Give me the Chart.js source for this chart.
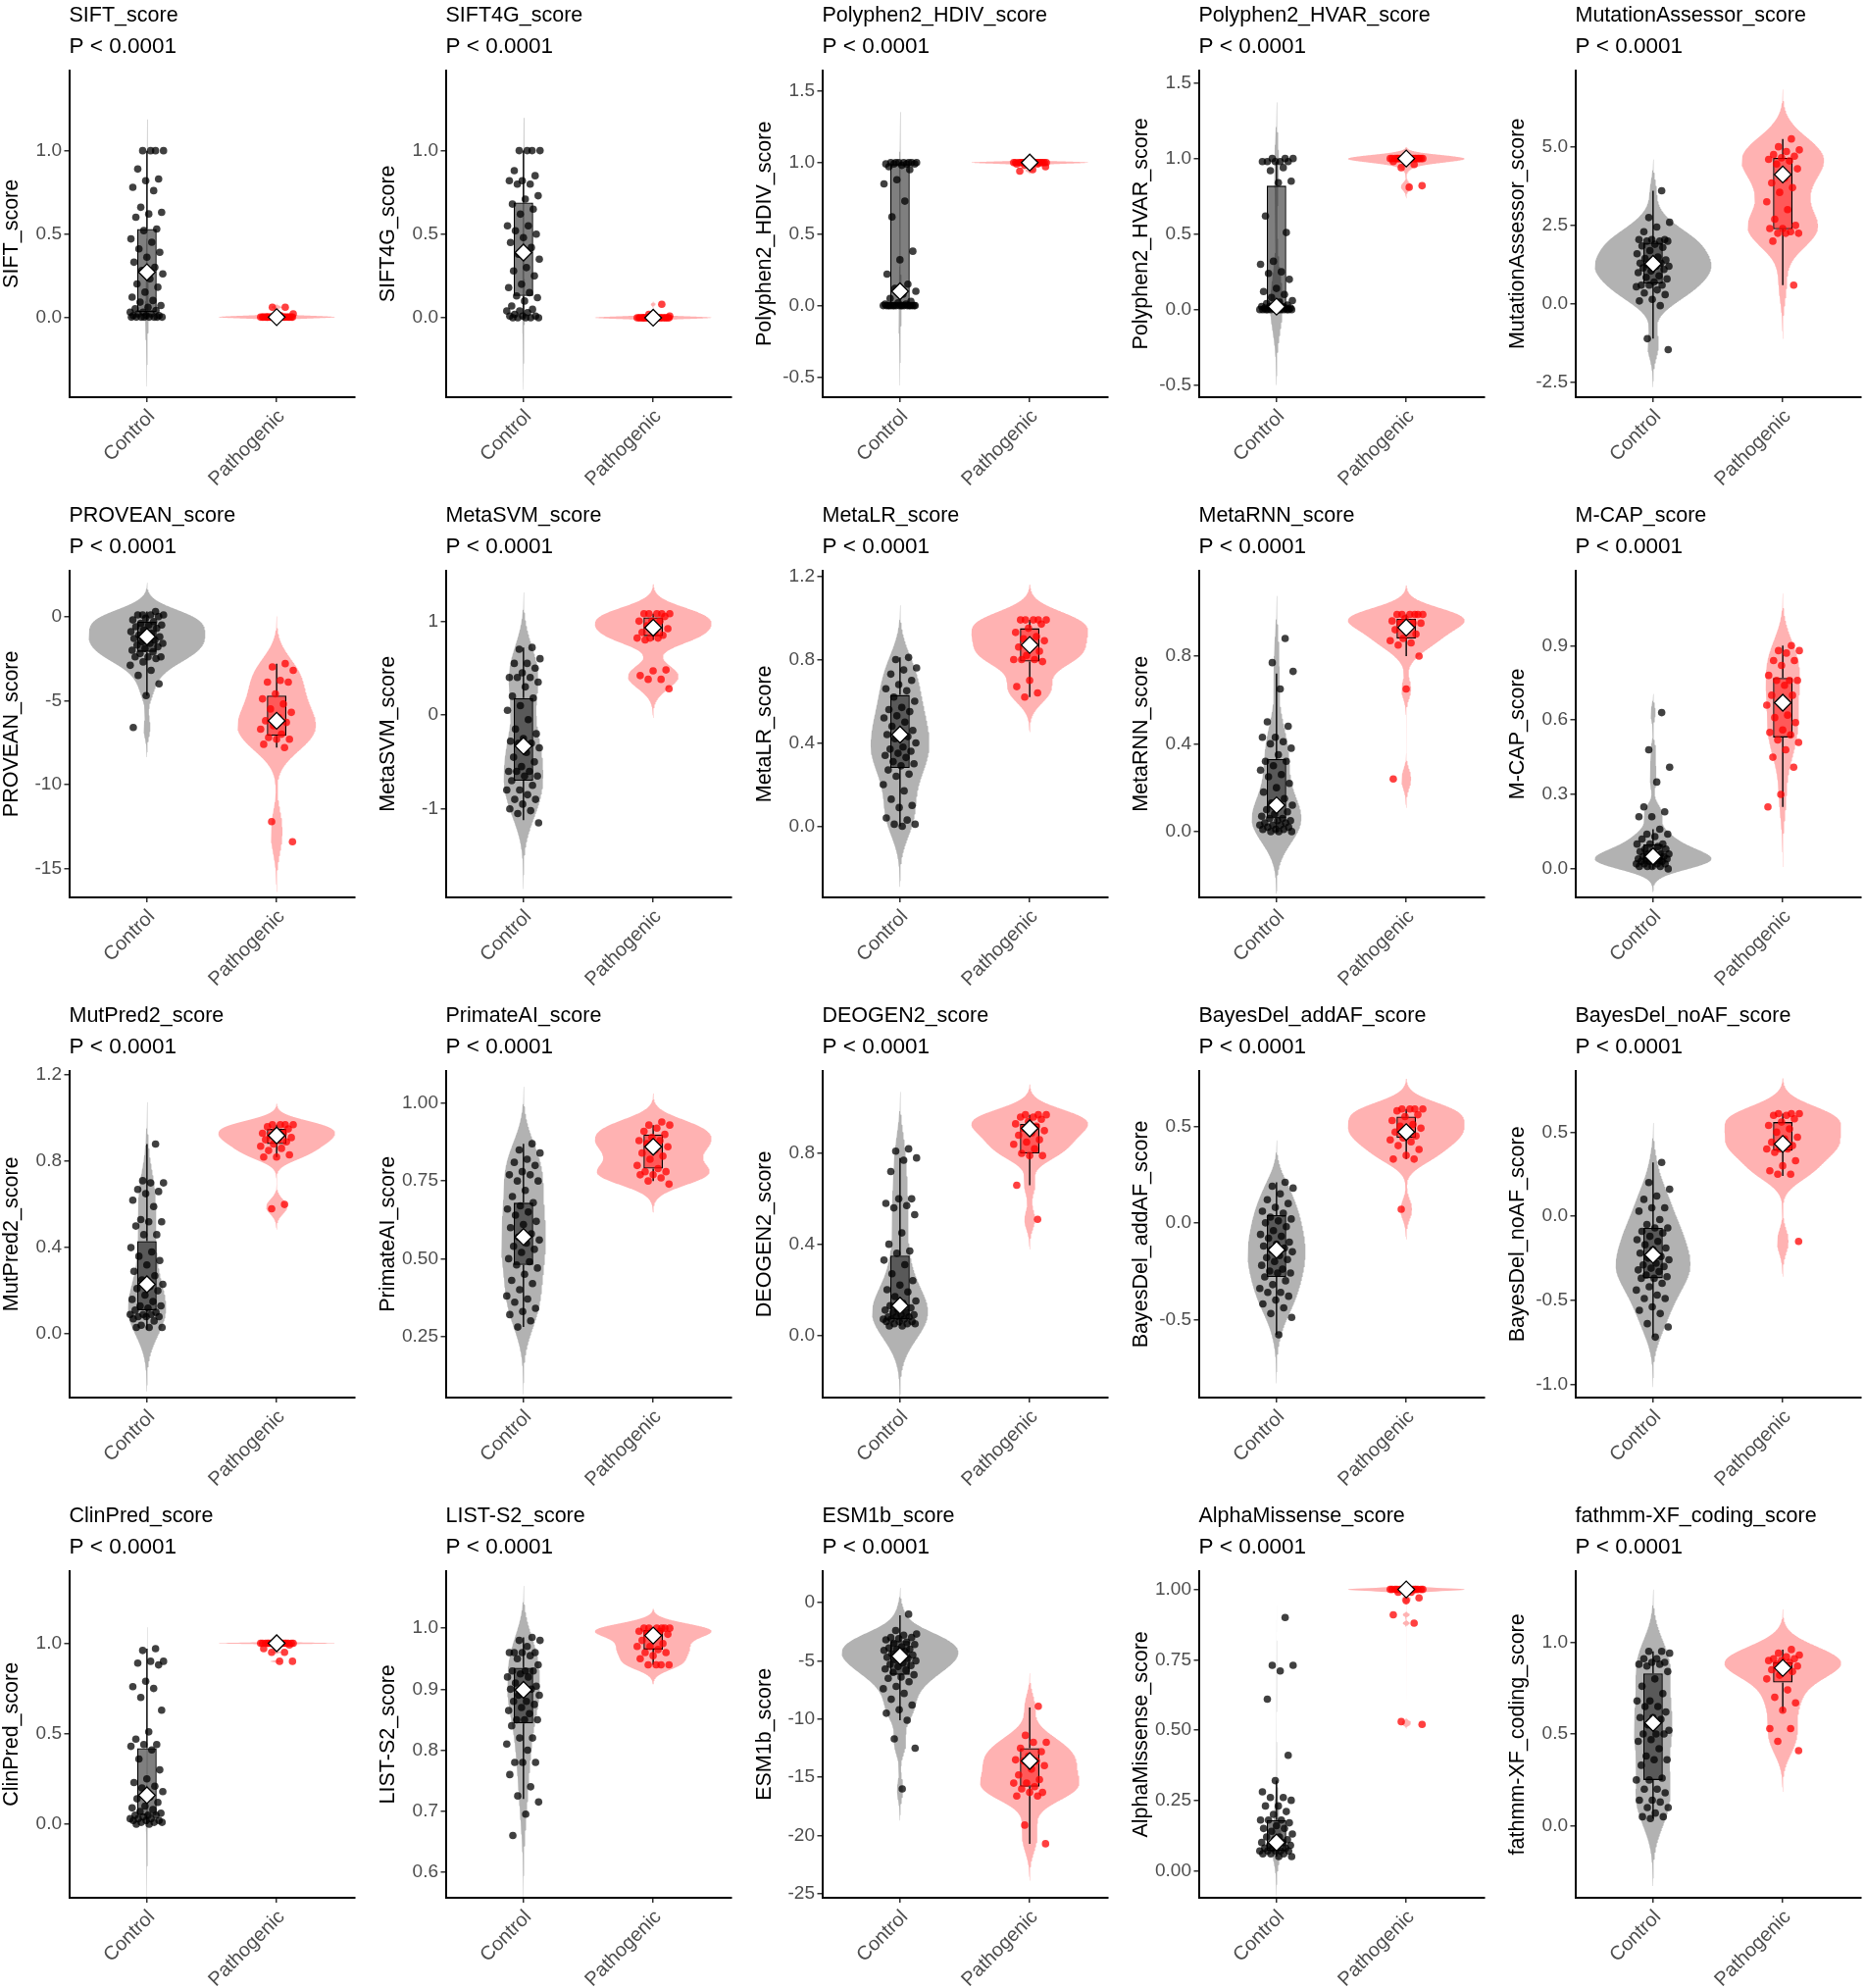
<!DOCTYPE html>
<html>
<head>
<meta charset="utf-8">
<script src="https://cdn.jsdelivr.net/npm/chart.js@4.4.1/dist/chart.umd.min.js"></script>
<style>
html, body { margin: 0; padding: 0; background: #ffffff; overflow: hidden; width: 1902px; height: 2027px; }
canvas { position: absolute; }
</style>
</head>
<body>
<script>
// ---------------- DATA ----------------
const groups = ['Control', 'Pathogenic'];

const scoreNames = [
  'SIFT_score', 'SIFT4G_score', 'Polyphen2_HDIV_score', 'Polyphen2_HVAR_score', 'MutationAssessor_score',
  'PROVEAN_score', 'MetaSVM_score', 'MetaLR_score', 'MetaRNN_score', 'M-CAP_score',
  'MutPred2_score', 'PrimateAI_score', 'DEOGEN2_score', 'BayesDel_addAF_score', 'BayesDel_noAF_score',
  'ClinPred_score', 'LIST-S2_score', 'ESM1b_score', 'AlphaMissense_score', 'fathmm-XF_coding_score'
];

const pValueLabels = [
  'P < 0.0001', 'P < 0.0001', 'P < 0.0001', 'P < 0.0001', 'P < 0.0001',
  'P < 0.0001', 'P < 0.0001', 'P < 0.0001', 'P < 0.0001', 'P < 0.0001',
  'P < 0.0001', 'P < 0.0001', 'P < 0.0001', 'P < 0.0001', 'P < 0.0001',
  'P < 0.0001', 'P < 0.0001', 'P < 0.0001', 'P < 0.0001', 'P < 0.0001'
];

const yTickLabels = [
  ['0.0', '0.5', '1.0'],
  ['0.0', '0.5', '1.0'],
  ['-0.5', '0.0', '0.5', '1.0', '1.5'],
  ['-0.5', '0.0', '0.5', '1.0', '1.5'],
  ['-2.5', '0.0', '2.5', '5.0'],
  ['-15', '-10', '-5', '0'],
  ['-1', '0', '1'],
  ['0.0', '0.4', '0.8', '1.2'],
  ['0.0', '0.4', '0.8'],
  ['0.0', '0.3', '0.6', '0.9'],
  ['0.0', '0.4', '0.8', '1.2'],
  ['0.25', '0.50', '0.75', '1.00'],
  ['0.0', '0.4', '0.8'],
  ['-0.5', '0.0', '0.5'],
  ['-1.0', '-0.5', '0.0', '0.5'],
  ['0.0', '0.5', '1.0'],
  ['0.6', '0.7', '0.8', '0.9', '1.0'],
  ['-25', '-20', '-15', '-10', '-5', '0'],
  ['0.00', '0.25', '0.50', '0.75', '1.00'],
  ['0.0', '0.5', '1.0']
];

// y-axis limits [min, max]
const yLimits = [
  [-0.481, 1.483], [-0.476, 1.481], [-0.64, 1.644], [-0.58, 1.584], [-2.96, 7.43],
  [-16.71, 2.74], [-1.944, 1.54], [-0.341, 1.227], [-0.30, 1.19], [-0.115, 1.203],
  [-0.295, 1.22], [0.053, 1.105], [-0.275, 1.164], [-0.905, 0.788], [-1.08, 0.866],
  [-0.407, 1.40], [0.558, 1.094], [-25.34, 2.72], [-0.0965, 1.066], [-0.391, 1.388]
];

const controlScores = [
  // SIFT
  [1,1,1,1,0.89,0.83,0.82,0.78,0.76,0.66,0.63,0.62,0.6,0.53,0.52,0.47,0.45,0.41,0.39,0.36,0.33,0.3,0.28,0.26,0.23,0.2,0.18,0.15,0.12,0.1,0.09,0.07,0.06,0.05,0.04,0.03,0.03,0.02,0.02,0.01,0.01,0.01,0,0,0,0,0,0,0,0],
  // SIFT4G
  [1,1,1,1,0.88,0.85,0.82,0.82,0.8,0.8,0.73,0.71,0.68,0.65,0.62,0.55,0.55,0.52,0.5,0.48,0.45,0.42,0.38,0.35,0.3,0.28,0.25,0.2,0.18,0.15,0.13,0.12,0.1,0.07,0.05,0.04,0.04,0.03,0.02,0.01,0.01,0.01,0,0,0,0,0],
  // Polyphen2_HDIV
  [1,1,1,1,1,1,1,0.99,0.99,0.99,0.99,0.98,0.97,0.95,0.88,0.85,0.73,0.62,0.38,0.32,0.22,0.15,0.12,0.1,0.08,0.05,0.03,0.02,0.01,0.01,0,0,0,0,0,0,0,0,0,0,0,0,0,0,0,0,0,0],
  // Polyphen2_HVAR
  [1,1,1,0.98,0.98,0.98,0.98,0.98,0.94,0.92,0.85,0.84,0.62,0.51,0.32,0.3,0.25,0.24,0.2,0.14,0.12,0.1,0.08,0.06,0.05,0.04,0.03,0.02,0.02,0.02,0.02,0.01,0.01,0.01,0.01,0.01,0,0,0,0,0,0,0,0,0,0,0,0],
  // MutationAssessor
  [3.6,2.75,2.6,2.45,2.3,2.05,2.05,2.05,2.0,2.0,2.0,1.9,1.85,1.8,1.7,1.6,1.5,1.45,1.4,1.35,1.3,1.3,1.25,1.2,1.2,1.15,1.1,1.05,1.0,0.9,0.85,0.8,0.7,0.6,0.6,0.6,0.55,0.45,0.35,0.3,0.15,0.1,-0.05,-1.1,-1.45],
  // PROVEAN
  [0.3,0.1,0.1,0.1,0.1,0,-0.1,-0.2,-0.3,-0.4,-0.5,-0.5,-0.6,-0.7,-0.8,-0.9,-1.0,-1.1,-1.2,-1.3,-1.3,-1.4,-1.5,-1.6,-1.6,-1.7,-1.8,-1.9,-2.0,-2.1,-2.2,-2.4,-2.4,-2.4,-2.5,-2.7,-2.9,-3.2,-3.5,-4.0,-4.7,-6.6],
  // MetaSVM
  [0.72,0.7,0.6,0.55,0.55,0.5,0.45,0.4,0.4,0.4,0.35,0.3,0.2,0.18,0.1,0.05,-0.05,-0.15,-0.2,-0.25,-0.28,-0.3,-0.3,-0.35,-0.4,-0.45,-0.5,-0.55,-0.6,-0.6,-0.6,-0.65,-0.65,-0.7,-0.75,-0.8,-0.8,-0.85,-0.9,-0.9,-0.95,-1.0,-1.02,-1.05,-1.15],
  // MetaLR
  [0.81,0.8,0.76,0.75,0.73,0.7,0.68,0.66,0.65,0.62,0.6,0.57,0.56,0.55,0.53,0.52,0.5,0.48,0.46,0.45,0.44,0.43,0.42,0.4,0.38,0.37,0.36,0.35,0.34,0.33,0.31,0.3,0.29,0.27,0.25,0.24,0.2,0.17,0.13,0.1,0.09,0.04,0.03,0.01,0.01,0.0],
  // MetaRNN
  [0.88,0.77,0.73,0.65,0.5,0.48,0.43,0.43,0.41,0.4,0.38,0.35,0.32,0.32,0.3,0.28,0.26,0.25,0.22,0.2,0.18,0.15,0.13,0.12,0.12,0.1,0.09,0.08,0.07,0.06,0.06,0.05,0.05,0.04,0.04,0.03,0.03,0.03,0.02,0.02,0.01,0.01,0.01,0,0,0],
  // M-CAP
  [0.63,0.48,0.41,0.35,0.25,0.23,0.21,0.21,0.16,0.14,0.14,0.13,0.12,0.1,0.1,0.1,0.09,0.08,0.08,0.07,0.07,0.06,0.06,0.06,0.05,0.05,0.05,0.05,0.04,0.04,0.04,0.04,0.03,0.03,0.03,0.03,0.02,0.02,0.02,0.02,0.01,0.01,0.01,0.01,0.0],
  // MutPred2
  [0.88,0.71,0.7,0.7,0.67,0.66,0.65,0.62,0.59,0.53,0.52,0.52,0.5,0.46,0.46,0.4,0.38,0.36,0.34,0.32,0.29,0.27,0.25,0.23,0.22,0.21,0.2,0.18,0.16,0.15,0.13,0.13,0.12,0.11,0.1,0.09,0.09,0.09,0.08,0.08,0.08,0.07,0.06,0.04,0.03,0.03,0.03],
  // PrimateAI
  [0.87,0.85,0.84,0.82,0.81,0.8,0.78,0.77,0.77,0.75,0.75,0.72,0.7,0.68,0.67,0.66,0.65,0.64,0.62,0.61,0.6,0.58,0.57,0.56,0.55,0.54,0.53,0.52,0.5,0.49,0.48,0.47,0.45,0.43,0.42,0.4,0.38,0.37,0.36,0.34,0.33,0.32,0.3,0.28],
  // DEOGEN2
  [0.82,0.81,0.78,0.77,0.72,0.6,0.6,0.58,0.57,0.56,0.53,0.45,0.4,0.37,0.36,0.33,0.31,0.27,0.24,0.22,0.2,0.19,0.17,0.15,0.14,0.13,0.12,0.11,0.11,0.1,0.1,0.09,0.09,0.08,0.08,0.08,0.07,0.07,0.07,0.06,0.06,0.06,0.05,0.05,0.05,0.04,0.04],
  // BayesDel_addAF
  [0.21,0.19,0.18,0.15,0.12,0.1,0.08,0.06,0.05,0.03,0.02,0.01,0,-0.02,-0.04,-0.06,-0.07,-0.08,-0.1,-0.11,-0.12,-0.13,-0.14,-0.15,-0.17,-0.18,-0.19,-0.2,-0.22,-0.24,-0.25,-0.26,-0.26,-0.28,-0.3,-0.32,-0.34,-0.36,-0.36,-0.38,-0.4,-0.42,-0.44,-0.47,-0.49,-0.58],
  // BayesDel_noAF
  [0.32,0.2,0.16,0.12,0.1,0.05,0.05,0.03,-0.02,-0.05,-0.07,-0.07,-0.09,-0.1,-0.12,-0.14,-0.15,-0.17,-0.19,-0.2,-0.22,-0.24,-0.25,-0.26,-0.28,-0.29,-0.3,-0.31,-0.32,-0.33,-0.35,-0.36,-0.37,-0.37,-0.4,-0.42,-0.44,-0.47,-0.49,-0.49,-0.54,-0.56,-0.58,-0.64,-0.66,-0.72],
  // ClinPred
  [0.97,0.96,0.9,0.9,0.89,0.88,0.79,0.76,0.75,0.7,0.63,0.51,0.47,0.44,0.44,0.43,0.41,0.36,0.3,0.25,0.23,0.21,0.2,0.18,0.15,0.14,0.12,0.1,0.09,0.08,0.07,0.06,0.05,0.05,0.05,0.04,0.03,0.03,0.03,0.02,0.02,0.02,0.01,0.01,0.01,0,0],
  // LIST-S2
  [0.985,0.98,0.98,0.97,0.96,0.96,0.96,0.96,0.955,0.95,0.94,0.93,0.93,0.93,0.925,0.92,0.92,0.91,0.905,0.9,0.9,0.9,0.89,0.89,0.88,0.88,0.875,0.87,0.865,0.86,0.85,0.85,0.85,0.84,0.82,0.82,0.81,0.8,0.78,0.78,0.78,0.76,0.74,0.725,0.715,0.695,0.66],
  // ESM1b
  [-1.0,-2.4,-2.7,-2.8,-3.0,-3.0,-3.1,-3.2,-3.4,-3.5,-3.6,-3.8,-3.9,-4.0,-4.0,-4.1,-4.2,-4.4,-4.5,-4.6,-4.7,-4.8,-4.9,-5.0,-5.2,-5.3,-5.4,-5.5,-5.7,-5.8,-6.0,-6.2,-6.4,-6.5,-6.8,-7.2,-7.4,-7.8,-8.3,-8.8,-9.2,-9.5,-10.1,-11.7,-12.5,-16.0],
  // AlphaMissense
  [0.9,0.73,0.73,0.71,0.61,0.41,0.32,0.28,0.26,0.26,0.25,0.23,0.23,0.21,0.2,0.18,0.18,0.18,0.17,0.16,0.15,0.15,0.14,0.13,0.12,0.12,0.11,0.11,0.1,0.1,0.09,0.09,0.09,0.08,0.08,0.08,0.07,0.07,0.07,0.07,0.07,0.06,0.06,0.06,0.05,0.05],
  // fathmm-XF_coding
  [0.95,0.95,0.94,0.91,0.91,0.89,0.89,0.88,0.88,0.87,0.84,0.8,0.76,0.72,0.68,0.68,0.65,0.65,0.62,0.59,0.59,0.58,0.55,0.52,0.5,0.5,0.5,0.47,0.46,0.42,0.38,0.36,0.36,0.33,0.26,0.25,0.25,0.2,0.2,0.18,0.14,0.14,0.13,0.1,0.1,0.07,0.05,0.05,0.04]
];

const pathogenicScores = [
  // SIFT
  [0.06,0.06,0.02,0.01,0,0,0,0,0,0,0,0,0,0,0,0,0,0,0,0,0,0,0,0,0,0],
  // SIFT4G
  [0.08,0.02,0.01,0,0,0,0,0,0,0,0,0,0,0,0,0,0,0,0,0,0,0,0,0,0,0],
  // Polyphen2_HDIV
  [1,1,1,1,1,1,1,1,1,1,1,1,1,1,1,1,1,1,1,1,0.99,0.99,0.98,0.97,0.95,0.94],
  // Polyphen2_HVAR
  [1,1,1,1,1,1,1,1,1,1,1,1,1,1,1,1,1,1,1,0.99,0.98,0.96,0.94,0.82,0.81],
  // MutationAssessor
  [5.25,5.0,4.9,4.85,4.75,4.7,4.65,4.6,4.55,4.45,4.3,4.0,3.85,3.7,3.55,3.25,3.0,2.7,2.5,2.4,2.4,2.3,2.25,2.25,2.25,2.0,0.6],
  // PROVEAN
  [-2.8,-3.0,-3.2,-3.8,-3.9,-3.9,-4.6,-4.9,-5.2,-5.5,-5.7,-6.0,-6.2,-6.3,-6.5,-6.7,-7.0,-7.2,-7.3,-7.3,-7.6,-7.8,-12.2,-13.4],
  // MetaSVM
  [1.08,1.08,1.08,1.08,1.08,1.05,1.0,1.0,1.0,0.95,0.92,0.88,0.88,0.85,0.82,0.82,0.82,0.8,0.48,0.47,0.42,0.38,0.38,0.28],
  // MetaLR
  [0.99,0.99,0.99,0.99,0.99,0.97,0.95,0.93,0.91,0.9,0.89,0.87,0.86,0.84,0.82,0.8,0.8,0.8,0.79,0.7,0.67,0.64,0.62],
  // MetaRNN
  [0.99,0.99,0.99,0.99,0.99,0.99,0.97,0.96,0.95,0.95,0.95,0.93,0.92,0.9,0.88,0.87,0.86,0.85,0.8,0.65,0.24],
  // M-CAP
  [0.9,0.88,0.88,0.87,0.84,0.84,0.82,0.78,0.76,0.76,0.76,0.74,0.7,0.7,0.67,0.66,0.62,0.61,0.59,0.56,0.55,0.54,0.52,0.51,0.48,0.45,0.41,0.3,0.25],
  // MutPred2
  [0.97,0.97,0.97,0.97,0.96,0.95,0.94,0.93,0.93,0.92,0.91,0.9,0.9,0.89,0.88,0.87,0.86,0.85,0.83,0.82,0.82,0.6,0.58],
  // PrimateAI
  [0.94,0.93,0.93,0.92,0.91,0.9,0.89,0.88,0.88,0.87,0.86,0.85,0.84,0.83,0.82,0.8,0.79,0.78,0.78,0.77,0.77,0.76,0.75,0.74],
  // DEOGEN2
  [0.97,0.97,0.97,0.96,0.96,0.95,0.94,0.93,0.92,0.91,0.9,0.89,0.88,0.86,0.85,0.84,0.82,0.8,0.79,0.79,0.66,0.51],
  // BayesDel_addAF
  [0.59,0.59,0.59,0.59,0.58,0.56,0.55,0.53,0.51,0.5,0.49,0.48,0.47,0.45,0.44,0.43,0.42,0.4,0.38,0.35,0.33,0.33,0.07],
  // BayesDel_noAF
  [0.61,0.61,0.61,0.6,0.6,0.58,0.56,0.54,0.52,0.5,0.47,0.46,0.44,0.42,0.4,0.4,0.4,0.38,0.33,0.3,0.27,0.25,0.25,-0.15],
  // ClinPred
  [1,1,1,1,1,1,1,1,1,1,1,1,1,1,1,1,1,1,0.99,0.98,0.97,0.95,0.95,0.9,0.9],
  // LIST-S2
  [1,1,1,1,1,1,0.995,0.995,0.995,0.99,0.99,0.985,0.98,0.975,0.97,0.97,0.965,0.96,0.96,0.955,0.95,0.94,0.94,0.94,0.94],
  // ESM1b
  [-8.9,-11.4,-12.0,-12.0,-12.5,-12.8,-13.2,-13.5,-13.6,-13.6,-14.0,-14.3,-14.8,-15.2,-15.5,-15.5,-15.8,-16.0,-16.3,-16.3,-16.6,-16.6,-19.1,-20.7],
  // AlphaMissense
  [1,1,1,1,1,1,1,1,1,1,1,1,1,1,1,1,0.99,0.99,0.97,0.96,0.91,0.88,0.53,0.52],
  // fathmm-XF_coding
  [0.96,0.94,0.93,0.92,0.91,0.91,0.9,0.9,0.89,0.88,0.87,0.86,0.85,0.84,0.82,0.8,0.74,0.7,0.67,0.63,0.53,0.53,0.46,0.41]
];

// box summaries: [lower whisker, Q1, centre (diamond), Q3, upper whisker]
const controlBox = [
  [0, 0.03, 0.27, 0.53, 1.0],
  [0, 0.13, 0.39, 0.69, 1.0],
  [0, 0, 0.1, 0.99, 1.0],
  [0, 0, 0.02, 0.82, 0.98],
  [-1.1, 0.65, 1.28, 1.95, 3.6],
  [-4.7, -2.1, -1.2, -0.3, 0.3],
  [-1.12, -0.7, -0.33, 0.18, 0.72],
  [0, 0.28, 0.44, 0.63, 0.81],
  [0, 0.06, 0.12, 0.33, 0.72],
  [0, 0.02, 0.05, 0.1, 0.16],
  [0.02, 0.11, 0.23, 0.43, 0.88],
  [0.28, 0.48, 0.57, 0.68, 0.87],
  [0.04, 0.07, 0.13, 0.35, 0.78],
  [-0.58, -0.28, -0.14, 0.04, 0.21],
  [-0.72, -0.37, -0.23, -0.07, 0.32],
  [0, 0.05, 0.16, 0.42, 0.97],
  [0.72, 0.844, 0.899, 0.935, 0.985],
  [-10.1, -6.2, -4.6, -3.3, -1.1],
  [0.05, 0.07, 0.1, 0.18, 0.32],
  [0.04, 0.25, 0.56, 0.83, 0.95]
];

const pathogenicBox = [
  [0, 0, 0, 0, 0],
  [0, 0, 0, 0, 0],
  [1, 1, 1, 1, 1],
  [1, 1, 1, 1, 1],
  [0.6, 2.38, 4.12, 4.65, 5.25],
  [-7.8, -7.1, -6.2, -4.7, -2.8],
  [0.8, 0.84, 0.93, 1.04, 1.08],
  [0.62, 0.79, 0.87, 0.95, 0.99],
  [0.8, 0.88, 0.93, 0.97, 0.99],
  [0.25, 0.53, 0.67, 0.77, 0.9],
  [0.82, 0.88, 0.92, 0.95, 0.97],
  [0.75, 0.79, 0.86, 0.9, 0.93],
  [0.66, 0.8, 0.91, 0.93, 0.97],
  [0.33, 0.44, 0.47, 0.55, 0.59],
  [0.24, 0.39, 0.43, 0.56, 0.61],
  [1, 1, 1, 1, 1],
  [0.94, 0.965, 0.988, 0.997, 1.0],
  [-20.7, -15.8, -13.6, -12.5, -9.0],
  [1, 1, 1, 1, 1],
  [0.62, 0.78, 0.86, 0.89, 0.96]
];

// ---------------- LAYOUT & STYLE ----------------
const COL_W = 384, ROW_H = 510, CANVAS_H = 497;
const Y_AXIS_W = 70.5, PAD_RIGHT = 22.5, X_AXIS_H = 92;
const FONT = "'Liberation Sans', Arial, Helvetica, sans-serif";
const groupStyle = [
  { violin: 'rgba(0,0,0,0.30)', box: 'rgba(0,0,0,0.50)', point: 'rgba(0,0,0,0.75)' },
  { violin: 'rgba(255,0,0,0.30)', box: 'rgba(255,0,0,0.50)', point: 'rgba(255,0,0,0.75)' }
];
Chart.defaults.font.family = FONT;

// deterministic horizontal jitter (position only)
function jitterOffset(i) {
  const u = ((i + 1) * 0.6180339887498949 + 0.137) % 1;
  return (u - 0.5) * 2 * 0.13;
}

// kernel density like ggplot2 geom_violin(trim = FALSE): gaussian, bw.nrd0, cut = 3
function quantile7(sorted, p) {
  const h = (sorted.length - 1) * p, lo = Math.floor(h);
  const hi = Math.min(lo + 1, sorted.length - 1);
  return sorted[lo] + (h - lo) * (sorted[hi] - sorted[lo]);
}
function bwNrd0(v) {
  const n = v.length;
  const mean = v.reduce((a, b) => a + b, 0) / n;
  const sd = Math.sqrt(v.reduce((a, b) => a + (b - mean) * (b - mean), 0) / (n - 1));
  const s = [...v].sort((a, b) => a - b);
  const iqr = quantile7(s, 0.75) - quantile7(s, 0.25);
  let lo = Math.min(sd, iqr / 1.34);
  if (!(lo > 0)) lo = sd || Math.abs(v[0]) || 1;
  return 0.9 * lo * Math.pow(n, -0.2);
}
function density(v) {
  const bw = bwNrd0(v), n = v.length, N = 512;
  const from = Math.min(...v) - 3 * bw, to = Math.max(...v) + 3 * bw;
  const ys = [], ds = [];
  const norm = 1 / (n * bw * Math.sqrt(2 * Math.PI));
  for (let j = 0; j < N; j++) {
    const y = from + (to - from) * j / (N - 1);
    let s = 0;
    for (const x of v) { const z = (y - x) / bw; s += Math.exp(-0.5 * z * z); }
    ys.push(y); ds.push(s * norm);
  }
  return { y: ys, d: ds };
}

scoreNames.forEach((name, k) => {
  const col = k % 5, row = Math.floor(k / 5);
  const canvas = document.createElement('canvas');
  canvas.width = COL_W; canvas.height = CANVAS_H;
  canvas.style.left = (col * COL_W) + 'px';
  canvas.style.top = (row * ROW_H) + 'px';
  canvas.style.width = COL_W + 'px';
  canvas.style.height = CANVAS_H + 'px';
  document.body.appendChild(canvas);

  const series = [controlScores[k], pathogenicScores[k]];
  const boxes = [controlBox[k], pathogenicBox[k]];
  const dens = series.map(density);
  const maxD = Math.max(...dens.map(d => Math.max(...d.d)));
  const datasets = [];

  series.forEach((vals, g) => {
    const pos = g + 1, d = dens[g];
    const right = d.y.map((y, j) => ({ x: pos + 0.45 * d.d[j] / maxD, y }));
    const left = d.y.map((y, j) => ({ x: pos - 0.45 * d.d[j] / maxD, y })).reverse();
    datasets.push({
      type: 'scatter', data: right.concat(left), showLine: true, fill: 'shape',
      backgroundColor: groupStyle[g].violin, borderColor: 'rgba(0,0,0,0)', borderWidth: 0,
      pointRadius: 0, tension: 0, order: 10
    });
    const b = boxes[g];
    datasets.push({
      type: 'scatter',
      data: [{ x: pos, y: b[0] }, { x: pos, y: b[1] }, { x: pos, y: null }, { x: pos, y: b[3] }, { x: pos, y: b[4] }],
      showLine: true, spanGaps: false, borderColor: '#000', borderWidth: 1.4, pointRadius: 0, order: 8
    });
    datasets.push({
      type: 'scatter', data: vals.map((v, i) => ({ x: pos + jitterOffset(i), y: v })),
      pointRadius: 3.8, backgroundColor: groupStyle[g].point, borderWidth: 0, order: 5
    });
  });
  datasets.push({
    type: 'bar', data: boxes.map((b, g) => ({ x: g + 1, y: [b[1], b[3]] })),
    backgroundColor: groupStyle.map(s => s.box), borderColor: '#000', borderWidth: 1.3,
    borderSkipped: false, barPercentage: 0.15, categoryPercentage: 1, order: 7
  });
  datasets.push({
    type: 'scatter', data: boxes.map((b, g) => ({ x: g + 1, y: b[2] })),
    pointStyle: 'rectRot', pointRadius: 8.5, backgroundColor: '#ffffff',
    borderColor: '#000', borderWidth: 1.3, order: 1
  });

  const tickVals = yTickLabels[k].map(parseFloat);

  new Chart(canvas, {
    type: 'scatter',
    data: { datasets },
    options: {
      responsive: false, animation: false, events: [],
      layout: { padding: { left: 0, right: PAD_RIGHT, top: 0, bottom: 0 } },
      plugins: {
        legend: { display: false },
        tooltip: { enabled: false },
        title: {
          display: true, text: name, align: 'start', fullSize: false, color: '#000',
          font: { family: FONT, size: 21.5, weight: 'normal' }, padding: { top: 3.1, bottom: 0 }
        },
        subtitle: {
          display: true, text: pValueLabels[k], align: 'start', fullSize: false, color: '#000',
          font: { family: FONT, size: 22.5, weight: 'normal' }, padding: { top: 5.3, bottom: 10.5 }
        }
      },
      scales: {
        x: {
          type: 'linear', min: 0.4, max: 2.6, offset: false,
          afterBuildTicks: s => { s.ticks = [{ value: 1 }, { value: 2 }]; },
          afterFit: s => { s.height = X_AXIS_H; },
          ticks: {
            callback: v => groups[Math.round(v) - 1], minRotation: 45, maxRotation: 45,
            autoSkip: false, color: '#4D4D4D', font: { family: FONT, size: 20 }, padding: 3, labelOffset: 5
          },
          grid: { display: true, drawOnChartArea: false, drawTicks: true, tickLength: 5, color: '#333333', lineWidth: 1.5, offset: false },
          border: { display: true, color: '#000', width: 2 }
        },
        y: {
          type: 'linear', min: yLimits[k][0], max: yLimits[k][1],
          afterBuildTicks: s => { s.ticks = tickVals.map(v => ({ value: v })); },
          afterFit: s => { s.width = Y_AXIS_W; },
          ticks: {
            callback: (v, i) => yTickLabels[k][i], autoSkip: false,
            color: '#4D4D4D', font: { family: FONT, size: 19 }, padding: 2.5
          },
          grid: { display: true, drawOnChartArea: false, drawTicks: true, tickLength: 5, color: '#333333', lineWidth: 1.5 },
          border: { display: true, color: '#000', width: 2 },
          title: {
            display: true, text: name, color: '#000',
            font: { family: FONT, size: 21.5, weight: 'normal', lineHeight: 1.0 }, padding: { top: 1, bottom: 0 }
          }
        }
      }
    }
  });
});
</script>
</body>
</html>
